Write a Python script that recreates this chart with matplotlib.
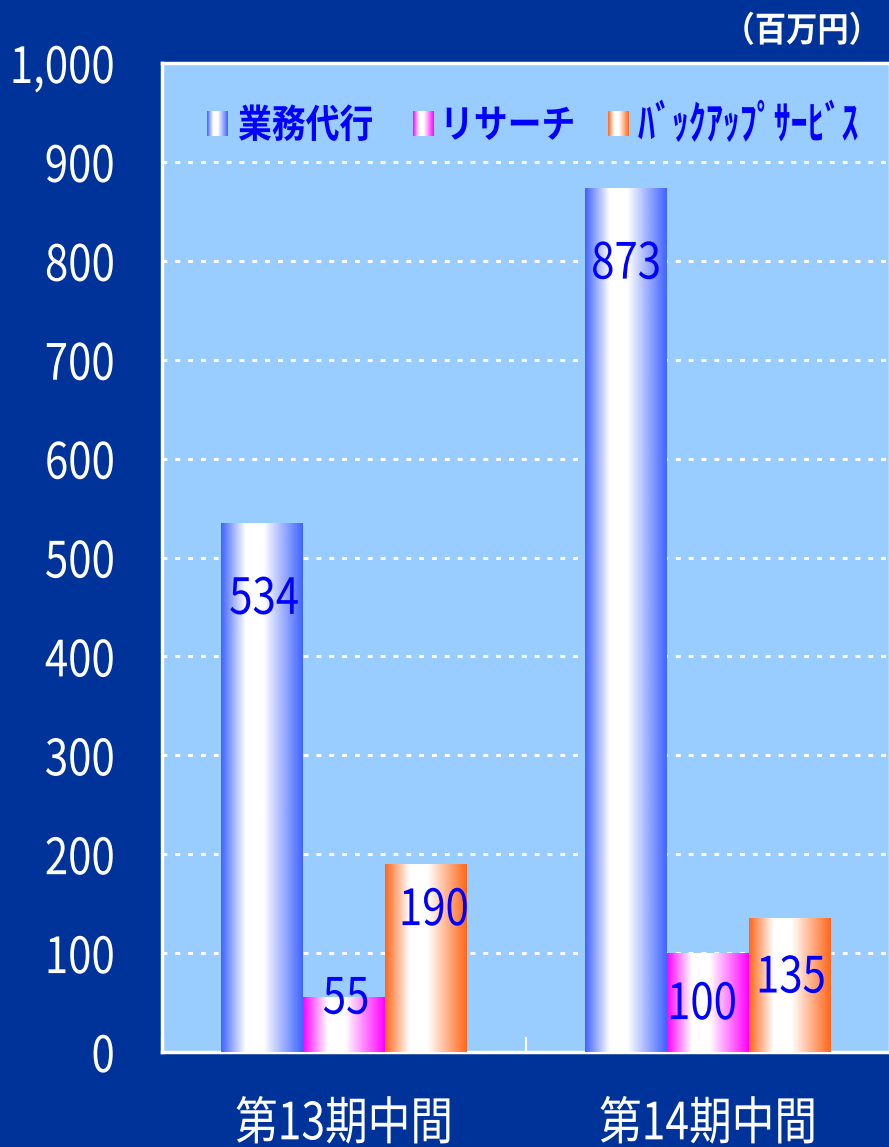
import numpy as np
import matplotlib
matplotlib.use('Agg')
import matplotlib.pyplot as plt
from matplotlib import patheffects
from matplotlib.colors import LinearSegmentedColormap
from matplotlib.transforms import Affine2D, offset_copy

plt.rcParams['font.family'] = ['Noto Sans CJK JP', 'DejaVu Sans']

# 売上データ（百万円）
periods = ['第13期中間', '第14期中間']
series_names = ['業務代行', 'リサーチ', 'ﾊﾞｯｸｱｯﾌﾟｻｰﾋﾞｽ']
gyomu = [534, 873]
research = [55, 100]
backup = [190, 135]
y_ticks = [0, 100, 200, 300, 400, 500, 600, 700, 800, 900, 1000]
y_labels = ['0', '100', '200', '300', '400', '500', '600', '700', '800', '900', '1,000']
unit_label = '（百万円）'

NAVY = '#003399'
PANEL = '#99CCFF'
TEXT_BLUE = '#0000FF'
edge_colors = ['#3F63FF', '#FF00FF', '#FF661A']

W, H = 889, 1147


class Squeeze(patheffects.AbstractPathEffect):
    """文字を基準点まわりに横方向へ縮めて描く"""
    def __init__(self, text, sx):
        super().__init__()
        self.text = text
        self.sx = sx

    def draw_path(self, renderer, gc, tpath, affine, rgbFace=None):
        x0 = self.text.get_transform().transform(self.text.get_position())[0]
        squeeze = Affine2D().translate(-x0, 0).scale(self.sx, 1).translate(x0, 0)
        renderer.draw_path(gc, tpath, affine + squeeze, rgbFace)


def narrow(t, sx=0.84):
    t.set_path_effects([Squeeze(t, sx)])
    return t


def gradient_cmap(color):
    return LinearSegmentedColormap.from_list(
        'g', [(0.0, color), (0.3, 'white'), (0.52, 'white'), (1.0, color)])


grad = np.linspace(0, 1, 256).reshape(1, -1)

fig = plt.figure(figsize=(W / 100, H / 100), dpi=100, facecolor=NAVY)
ax = fig.add_axes([162 / W, 1 - 1052 / H, (890 - 162) / W, (1052 - 63) / H])
ax.set_facecolor(PANEL)

x = np.arange(len(periods))
w = 0.225
all_values = [gyomu, research, backup]
# 各棒のラベル位置の微調整（ピクセル）
label_shift = [[(2, -76), (0, -76)], [(2, -2), (-6, -52)], [(8, -47), (1, -60)]]

for i, (vals, col) in enumerate(zip(all_values, edge_colors)):
    bars = ax.bar(x + (i - 1) * w, vals, w, color=col, zorder=2)
    cmap = gradient_cmap(col)
    for j, b in enumerate(bars):
        x0, h = b.get_x(), b.get_height()
        ax.imshow(grad, cmap=cmap, aspect='auto', interpolation='bilinear',
                  extent=[x0, x0 + b.get_width(), 0, h], zorder=3)
        dx, dy = label_shift[i][j]
        tr = offset_copy(ax.transData, fig=fig, x=dx, y=dy, units='dots')
        t = ax.text(b.get_x() + b.get_width() / 2, h, str(vals[j]), transform=tr,
                    ha='center', va='center', fontsize=36, color=TEXT_BLUE, zorder=4)
        narrow(t)

ax.set_xlim(-0.5, 1.5)
ax.set_ylim(0, 1000)

# 目盛りと補助線
ax.set_yticks(y_ticks, y_labels)
ax.tick_params(axis='y', length=0, pad=34, labelsize=36, labelcolor='white')
for lbl in ax.get_yticklabels():
    narrow(lbl)
ax.set_xticks(x, periods)
ax.set_xticks([-0.5, 0.5, 1.5], minor=True)
ax.tick_params(axis='x', which='major', length=0, pad=33, labelsize=37, labelcolor='white')
ax.tick_params(axis='x', which='minor', direction='in', length=11, width=1.5, color='white')
for lbl in ax.get_xticklabels():
    narrow(lbl, 0.83)

ax.set_axisbelow(True)
ax.yaxis.grid(True, color='white', linewidth=2.2, linestyle=(0, (1.6, 2.6)))
ax.xaxis.grid(False)
for s in ax.spines.values():
    s.set_color('white')
    s.set_linewidth(2.5)

# 凡例
swatch_x = [207, 413, 608]
text_x = [238, 440, 638]
font_sizes = [28, 28, 33]
squeezes = [0.87, 0.87, 0.74]
for name, col, sx, tx, fs, sq in zip(series_names, edge_colors, swatch_x, text_x,
                                     font_sizes, squeezes):
    sax = fig.add_axes([sx / W, 1 - 136 / H, 21 / W, 25 / H])
    sax.imshow(grad, cmap=gradient_cmap(col), aspect='auto', interpolation='bilinear')
    sax.set_axis_off()
    t = fig.text(tx / W, 1 - 126 / H, name, ha='left', va='center',
                 fontsize=fs, fontweight='bold', color=TEXT_BLUE)
    narrow(t, sq)

t = fig.text(880 / W, 1 - 31 / H, unit_label, ha='right', va='center',
             fontsize=25, fontweight='bold', color='white')
narrow(t, 0.9)

fig.savefig('out.png', dpi=100, facecolor=NAVY)
